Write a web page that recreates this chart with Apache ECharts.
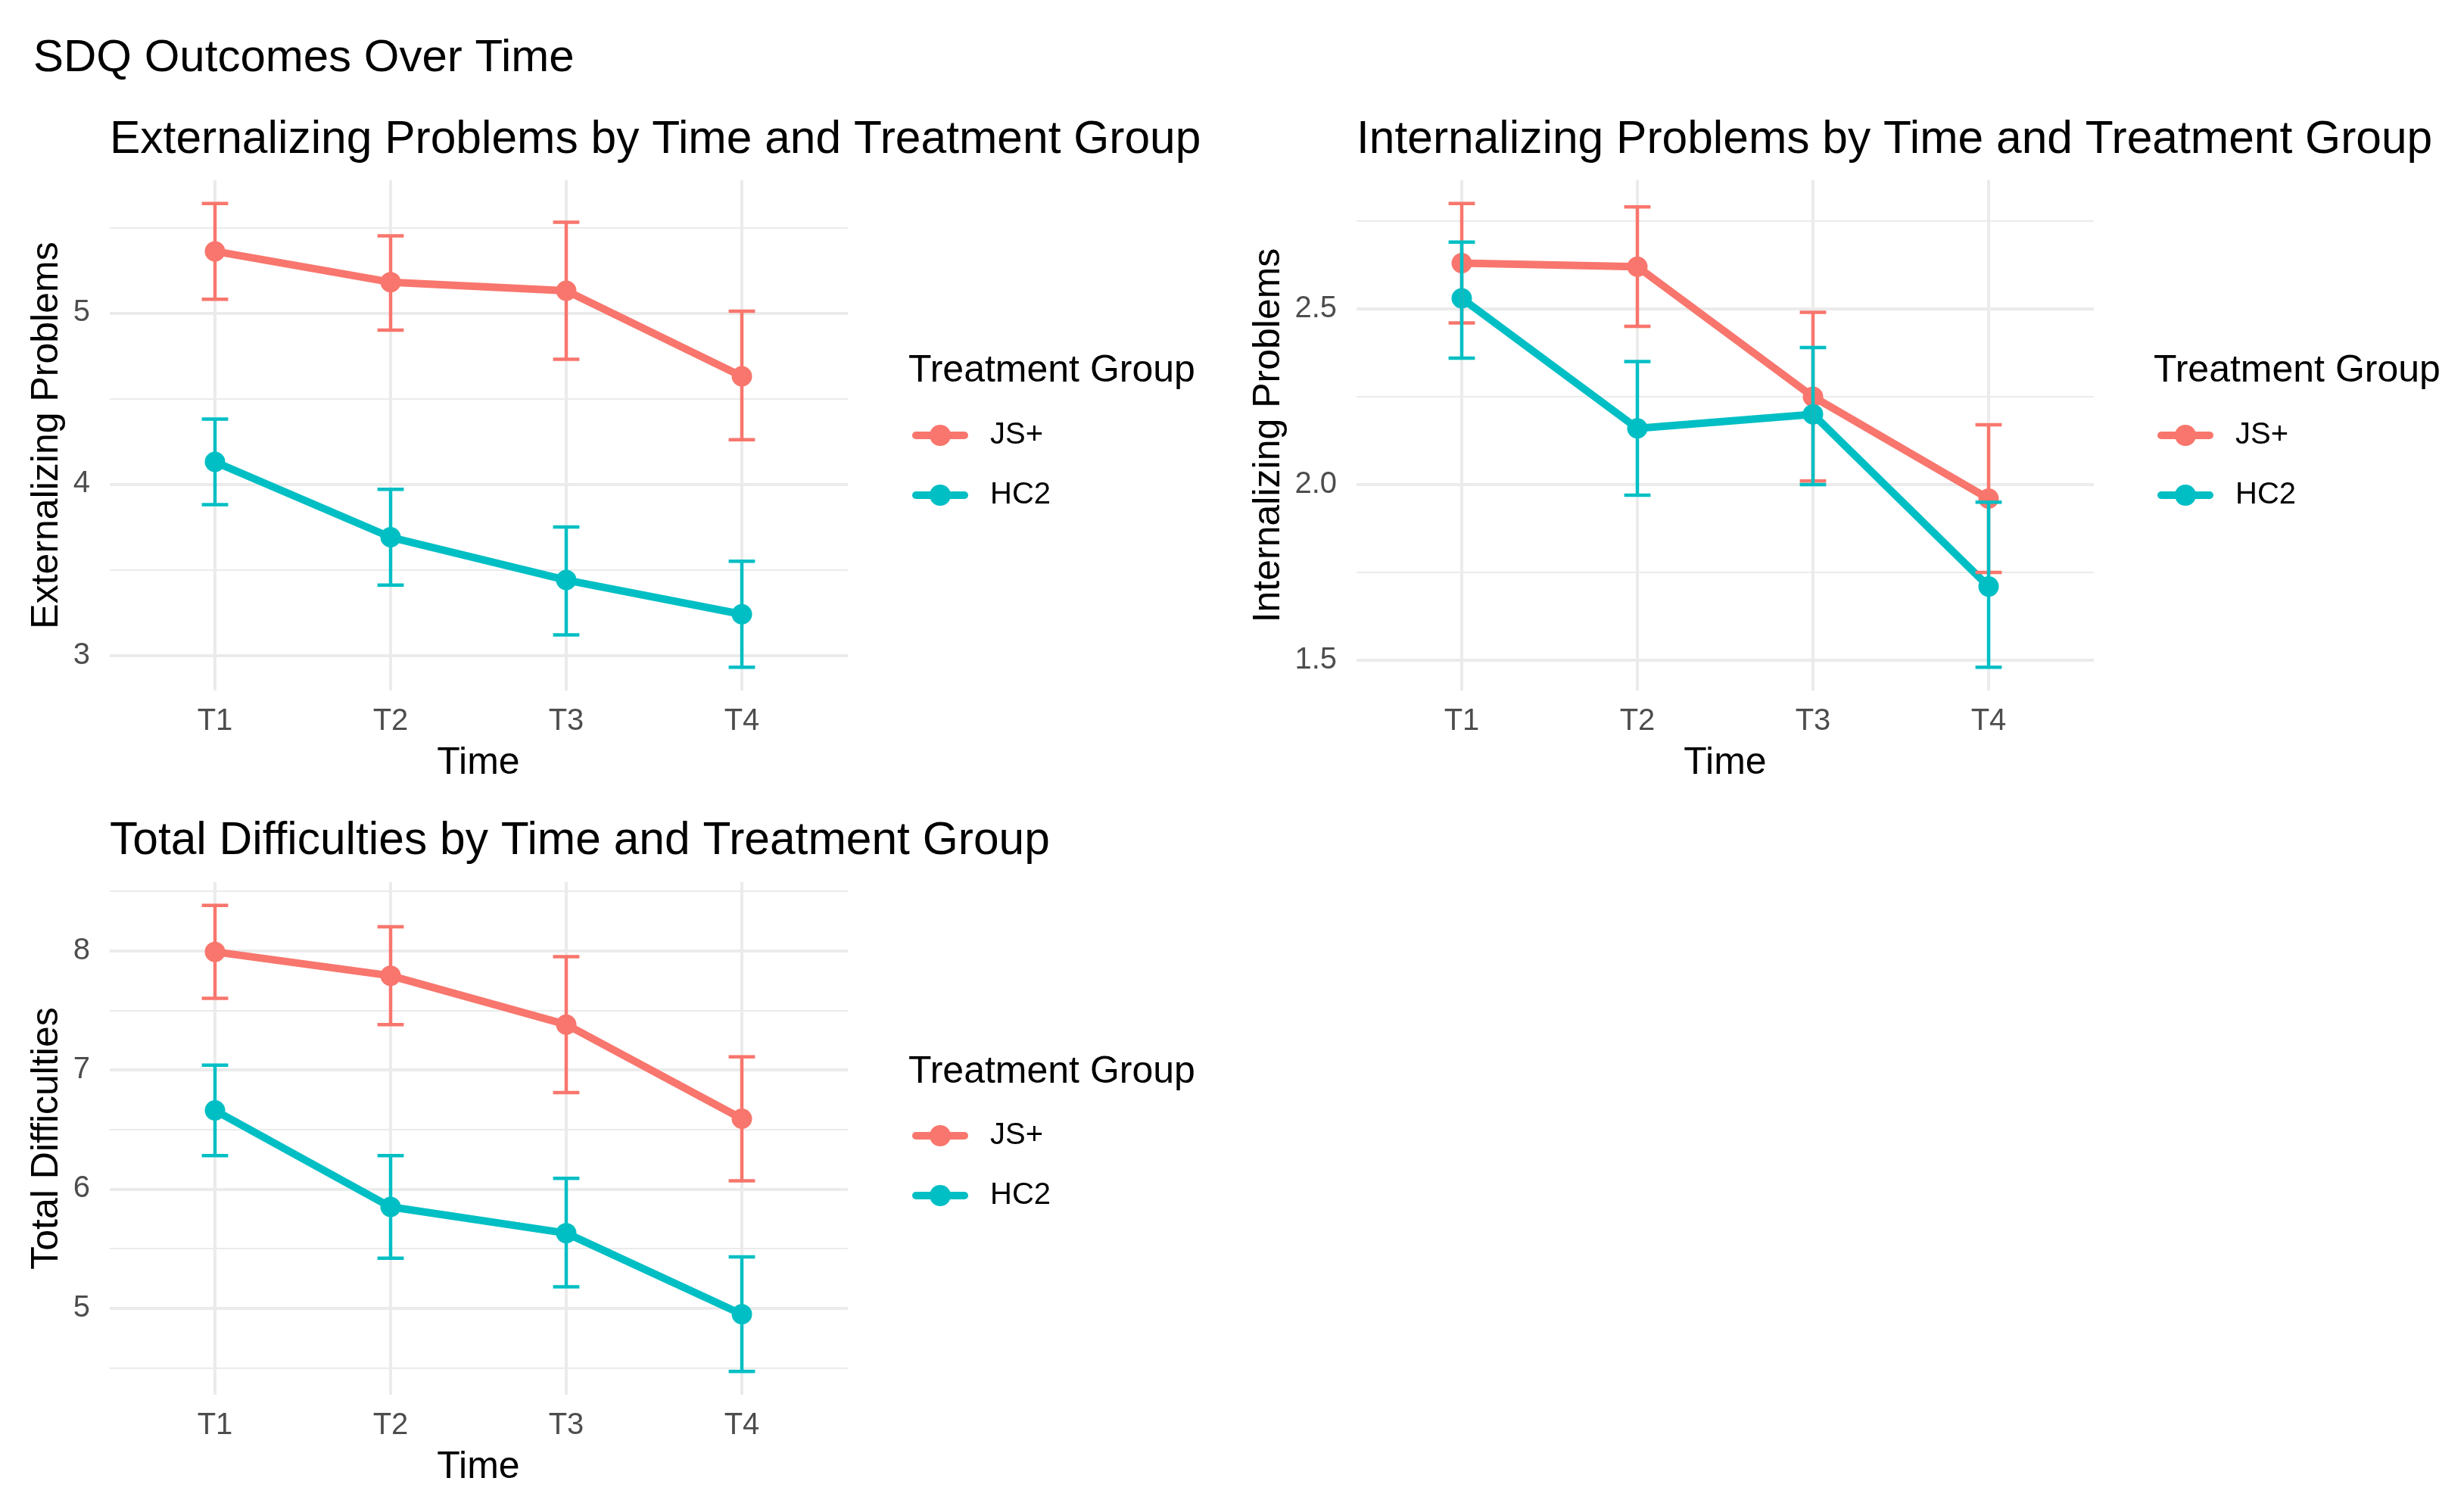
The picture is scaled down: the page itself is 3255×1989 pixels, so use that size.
<!DOCTYPE html>
<html>
<head>
<meta charset="utf-8">
<script src="https://cdn.jsdelivr.net/npm/echarts@6/dist/echarts.min.js"></script>
<style>
html,body{margin:0;padding:0;background:#ffffff;}
#chart{width:3255px;height:1989px;}
</style>
</head>
<body>
<div id="chart"></div>
<script>
// ---------------- data ----------------
const times = ['T1', 'T2', 'T3', 'T4'];
const groups = ['JS+', 'HC2'];

// Externalizing Problems
const extJsMean = [5.36, 5.18, 5.13, 4.63];
const extJsLow  = [5.08, 4.90, 4.73, 4.26];
const extJsHigh = [5.64, 5.45, 5.53, 5.01];
const extHcMean = [4.13, 3.69, 3.44, 3.24];
const extHcLow  = [3.88, 3.41, 3.12, 2.93];
const extHcHigh = [4.38, 3.97, 3.75, 3.55];

// Internalizing Problems
const intJsMean = [2.63, 2.62, 2.25, 1.96];
const intJsLow  = [2.46, 2.45, 2.01, 1.75];
const intJsHigh = [2.80, 2.79, 2.49, 2.17];
const intHcMean = [2.53, 2.16, 2.20, 1.71];
const intHcLow  = [2.36, 1.97, 2.00, 1.48];
const intHcHigh = [2.69, 2.35, 2.39, 1.95];

// Total Difficulties
const totJsMean = [7.99, 7.79, 7.38, 6.59];
const totJsLow  = [7.60, 7.38, 6.81, 6.07];
const totJsHigh = [8.38, 8.20, 7.95, 7.11];
const totHcMean = [6.66, 5.85, 5.63, 4.95];
const totHcLow  = [6.28, 5.42, 5.18, 4.47];
const totHcHigh = [7.04, 6.28, 6.09, 5.43];

// y-axis break steps (tick labels)
const extTickStep = 1;
const intTickStep = 0.5;
const totTickStep = 1;

// ---------------- style / layout ----------------
const FONT = "'Liberation Sans', Arial, Helvetica, sans-serif";
const COLORS = {'JS+': '#F8766D', 'HC2': '#00BFC4'};
const GRID_COLOR = '#EBEBEB';

const panels = [
  {
    title: 'Externalizing Problems by Time and Treatment Group',
    ytitle: 'Externalizing Problems',
    step: extTickStep, dec: 0,
    js: [extJsMean, extJsLow, extJsHigh], hc: [extHcMean, extHcLow, extHcHigh],
    L: {left: 145, top: 238, width: 975, height: 674, inLeft: 284, inWidth: 696,
        titleTop: 155, yNameGap: 58, legLeft: 1205, legTitleLeft: 1200, legTitleTop: 465, legTop: 555}
  },
  {
    title: 'Internalizing Problems by Time and Treatment Group',
    ytitle: 'Internalizing Problems',
    step: intTickStep, dec: 1,
    js: [intJsMean, intJsLow, intJsHigh], hc: [intHcMean, intHcLow, intHcHigh],
    L: {left: 1792, top: 238, width: 974, height: 674, inLeft: 1931, inWidth: 696,
        titleTop: 155, yNameGap: 91, legLeft: 2850, legTitleLeft: 2845, legTitleTop: 465, legTop: 555}
  },
  {
    title: 'Total Difficulties by Time and Treatment Group',
    ytitle: 'Total Difficulties',
    step: totTickStep, dec: 0,
    js: [totJsMean, totJsLow, totJsHigh], hc: [totHcMean, totHcLow, totHcHigh],
    L: {left: 145, top: 1165, width: 975, height: 677, inLeft: 284, inWidth: 696,
        titleTop: 1081, yNameGap: 58, legLeft: 1205, legTitleLeft: 1200, legTitleTop: 1391, legTop: 1480}
  }
];

function limits(arrs) {
  const all = [].concat(...arrs);
  const mn = Math.min(...all), mx = Math.max(...all);
  const r = mx - mn;
  return [mn - 0.05 * r, mx + 0.05 * r];
}

function errRender(params, api) {
  const x = api.value(0);
  const lo = api.coord([x, api.value(1)]);
  const hi = api.coord([x, api.value(2)]);
  const step = api.coord([1, api.value(1)])[0] - api.coord([0, api.value(1)])[0];
  const hw = Math.abs(step) * 0.075;
  const style = {stroke: api.visual('color'), lineWidth: 4.5, fill: null};
  return {
    type: 'group',
    children: [
      {type: 'line', shape: {x1: lo[0], y1: lo[1], x2: hi[0], y2: hi[1]}, style: style},
      {type: 'line', shape: {x1: lo[0] - hw, y1: lo[1], x2: lo[0] + hw, y2: lo[1]}, style: style},
      {type: 'line', shape: {x1: hi[0] - hw, y1: hi[1], x2: hi[0] + hw, y2: hi[1]}, style: style}
    ]
  };
}

const option = {
  backgroundColor: '#ffffff',
  animation: false,
  textStyle: {fontFamily: FONT},
  title: [{
    text: 'SDQ Outcomes Over Time', left: 44, top: 47, padding: 0,
    textStyle: {fontSize: 60, fontWeight: 'normal', color: '#000000', fontFamily: FONT}
  }],
  grid: [], xAxis: [], yAxis: [], series: [], legend: []
};

panels.forEach((p, pi) => {
  const L = p.L;
  const lim = limits([p.js[1], p.js[2], p.hc[1], p.hc[2], p.js[0], p.hc[0]]);
  const gA = option.grid.length;
  option.grid.push({left: L.left, top: L.top, width: L.width, height: L.height, containLabel: false});
  const gB = option.grid.length;
  option.grid.push({left: L.inLeft, top: L.top, width: L.inWidth, height: L.height, containLabel: false});

  // titles
  option.title.push({
    text: p.title, left: L.left, top: L.titleTop, padding: 0,
    textStyle: {fontSize: 60.5, fontWeight: 'normal', color: '#000000', fontFamily: FONT}
  });
  option.title.push({
    text: 'Treatment Group', left: L.legTitleLeft, top: L.legTitleTop, padding: 0,
    textStyle: {fontSize: 50, fontWeight: 'normal', color: '#000000', fontFamily: FONT}
  });

  // background x (hidden)
  option.xAxis.push({gridIndex: gA, type: 'value', min: 0, max: 1, show: false});
  const xB = option.xAxis.length;
  option.xAxis.push({
    gridIndex: gB, type: 'category', data: times, boundaryGap: false,
    axisLine: {show: false}, axisTick: {show: false},
    axisLabel: {fontSize: 40, color: '#4D4D4D', margin: 21, fontFamily: FONT},
    splitLine: {show: true, lineStyle: {color: GRID_COLOR, width: 4}},
    name: 'Time', nameLocation: 'middle', nameGap: 71,
    nameTextStyle: {fontSize: 50, color: '#000000', fontFamily: FONT}
  });

  const step = p.step, dec = p.dec;
  option.yAxis.push({
    gridIndex: gA, type: 'value', min: lim[0], max: lim[1],
    minInterval: step, maxInterval: step, position: 'left',
    axisLine: {show: false}, axisTick: {show: false},
    axisLabel: {
      fontSize: 40, color: '#4D4D4D', margin: 26, fontFamily: FONT,
      showMinLabel: false, showMaxLabel: false,
      formatter: v => (Math.abs(v / step - Math.round(v / step)) < 1e-6 ? v.toFixed(dec) : '')
    },
    splitLine: {show: true, showMinLine: false, showMaxLine: false, lineStyle: {color: GRID_COLOR, width: 4}},
    name: p.ytitle, nameLocation: 'middle', nameGap: L.yNameGap, nameRotate: 90,
    nameTextStyle: {fontSize: 50, color: '#000000', fontFamily: FONT}
  });
  // minor grid lines: shifted scale so that ticks fall half-way between major breaks
  option.yAxis.push({
    gridIndex: gA, type: 'value', min: lim[0] + step / 2, max: lim[1] + step / 2,
    minInterval: step, maxInterval: step, position: 'right',
    axisLine: {show: false}, axisTick: {show: false}, axisLabel: {show: false},
    splitLine: {show: true, showMinLine: false, showMaxLine: false, lineStyle: {color: GRID_COLOR, width: 2.2}}
  });
  const yB = option.yAxis.length;
  option.yAxis.push({gridIndex: gB, type: 'value', min: lim[0], max: lim[1], show: false});

  const sets = [['JS+', p.js], ['HC2', p.hc]];
  sets.forEach(([name, d]) => {
    option.series.push({
      name: name, type: 'line', xAxisIndex: xB, yAxisIndex: yB,
      data: d[0], symbol: 'circle', symbolSize: 27, showSymbol: true, clip: false,
      color: COLORS[name],
      lineStyle: {width: 10, color: COLORS[name], join: 'round', cap: 'round'},
      itemStyle: {color: COLORS[name]}, z: 2
    });
  });
  sets.forEach(([name, d]) => {
    option.series.push({
      name: name, type: 'custom', xAxisIndex: xB, yAxisIndex: yB,
      renderItem: errRender,
      encode: {x: 0, y: [1, 2]},
      data: times.map((t, i) => [i, d[1][i], d[2][i]]),
      itemStyle: {color: COLORS[name]}, z: 3
    });
  });

  option.legend.push({
    orient: 'vertical', left: L.legLeft, top: L.legTop, padding: 0,
    itemWidth: 64, itemHeight: 35, itemGap: 39,
    data: groups,
    lineStyle: {width: 10},
    textStyle: {fontSize: 40, color: '#000000', fontFamily: FONT, lineHeight: 40,
      rich: {p: {fontSize: 40, color: '#000000', fontFamily: FONT, padding: [0, 0, 0, 29]}}},
    formatter: n => '{p|' + n + '}'
  });
});

const chart = echarts.init(document.getElementById('chart'), null, {renderer: 'canvas'});
chart.setOption(option);
</script>
</body>
</html>
